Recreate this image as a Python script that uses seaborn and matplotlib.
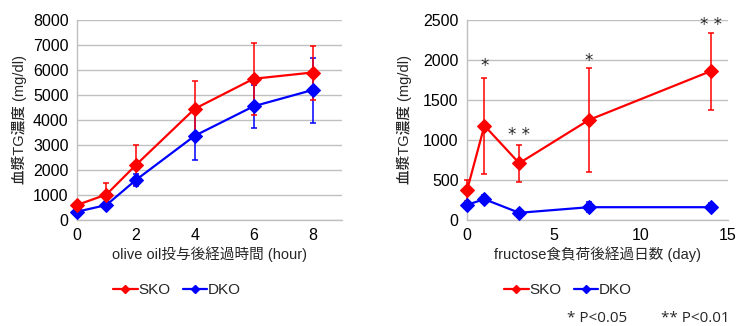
import numpy as np
import pandas as pd
import matplotlib
matplotlib.use("Agg")
import matplotlib.pyplot as plt
import seaborn as sns
from matplotlib.lines import Line2D

# ---- data ----
olive_hours = [0, 1, 2, 4, 6, 8]
olive_sko = [600, 1020, 2200, 4450, 5650, 5900]
olive_sko_err = [100, 470, 800, 1100, 1450, 1080]
olive_dko = [330, 600, 1600, 3370, 4550, 5200]
olive_dko_err = [60, 100, 250, 970, 870, 1300]

fruc_days = [0, 1, 3, 7, 14]
fruc_sko = [370, 1180, 710, 1250, 1860]
fruc_sko_err = [130, 600, 230, 645, 480]
fruc_dko = [190, 260, 90, 160, 160]
fruc_dko_err = [30, 50, 20, 60, 50]

sig_days = [1, 3, 7, 14]
sig_marks = ["*", "**", "*", "**"]
sig_y = [1920, 1060, 1990, 2440]

sns.set_theme(style="white")
plt.rcParams["font.family"] = ["Liberation Sans", "Noto Sans CJK JP", "DejaVu Sans"]

RED = "#ff0000"
BLUE = "#0000ff"
GRID = "#c0c0c0"
CJK = ["Liberation Sans", "Noto Sans CJK JP"]

fig = plt.figure(figsize=(7.37, 3.26), dpi=100)
ax1 = fig.add_axes([77 / 737, 106 / 326, 265 / 737, 200 / 326])
ax2 = fig.add_axes([467 / 737, 106 / 326, 261 / 737, 200 / 326])


def draw(ax, x, sko, sko_err, dko, dko_err):
    df = pd.DataFrame({
        "x": list(x) * 2,
        "y": list(dko) + list(sko),
        "group": ["DKO"] * len(x) + ["SKO"] * len(x),
    })
    for grp, col, err in [("DKO", BLUE, dko_err), ("SKO", RED, sko_err)]:
        sub = df[df["group"] == grp]
        ax.errorbar(sub["x"], sub["y"], yerr=err, fmt="none", ecolor=col,
                    elinewidth=1.1, capsize=2.2, capthick=1.1, zorder=3,
                    clip_on=False)
        sns.lineplot(data=sub, x="x", y="y", ax=ax, color=col, marker="D",
                     markersize=7, markeredgecolor=col, linewidth=1.6,
                     zorder=4, legend=False, clip_on=False)
    ax.grid(axis="y", color=GRID, linewidth=1)
    ax.grid(axis="x", visible=False)
    for s in ["top", "right"]:
        ax.spines[s].set_visible(False)
    for s in ["left", "bottom"]:
        ax.spines[s].set_color("#bfbfbf")
        ax.spines[s].set_linewidth(1)
    ax.tick_params(axis="both", labelsize=11.5, length=0, pad=6, colors="black")
    ax.set_ylabel("血漿TG濃度 (mg/dl)", fontsize=10.5, family=CJK,
                  fontweight="medium")


draw(ax1, olive_hours, olive_sko, olive_sko_err, olive_dko, olive_dko_err)
ax1.set_xlim(0, 9)
ax1.set_ylim(0, 8000)
ax1.set_xticks([0, 2, 4, 6, 8])
ax1.set_yticks(range(0, 8001, 1000))
ax1.set_xlabel("olive oil投与後経過時間 (hour)", fontsize=10.5, labelpad=2,
               family=CJK)
ax1.yaxis.set_label_coords(-50 / 265, 0.5)

draw(ax2, fruc_days, fruc_sko, fruc_sko_err, fruc_dko, fruc_dko_err)
ax2.set_xlim(0, 15)
ax2.set_ylim(0, 2500)
ax2.set_xticks([0, 5, 10, 15])
ax2.set_yticks(range(0, 2501, 500))
ax2.set_xlabel("fructose食負荷後経過日数 (day)", fontsize=10.5, labelpad=2,
               family=CJK)
ax2.yaxis.set_label_coords(-55 / 261, 0.5)

for d, m, yv in zip(sig_days, sig_marks, sig_y):
    ax2.text(d, yv, " ".join(m), ha="center", va="center", fontsize=12,
             family="DejaVu Sans")

# legends below each panel
handles = [Line2D([], [], color=RED, marker="D", markersize=4, linewidth=1.6),
           Line2D([], [], color=BLUE, marker="D", markersize=4, linewidth=1.6)]
for cx in [177 / 737, 568 / 737]:
    fig.legend(handles, ["SKO", "DKO"], loc="center", ncol=2,
               bbox_to_anchor=(cx, 1 - 290 / 326), frameon=False,
               fontsize=11, handlelength=1.6, handletextpad=0.05,
               columnspacing=0.8)

fig.text(597 / 737, 1 - 318 / 326, "* P<0.05", ha="center", va="center",
         fontsize=11, family="Open Sans")
fig.text(695 / 737, 1 - 318 / 326, "** P<0.01", ha="center", va="center",
         fontsize=11, family="Open Sans")

fig.savefig("out.png", dpi=100)
